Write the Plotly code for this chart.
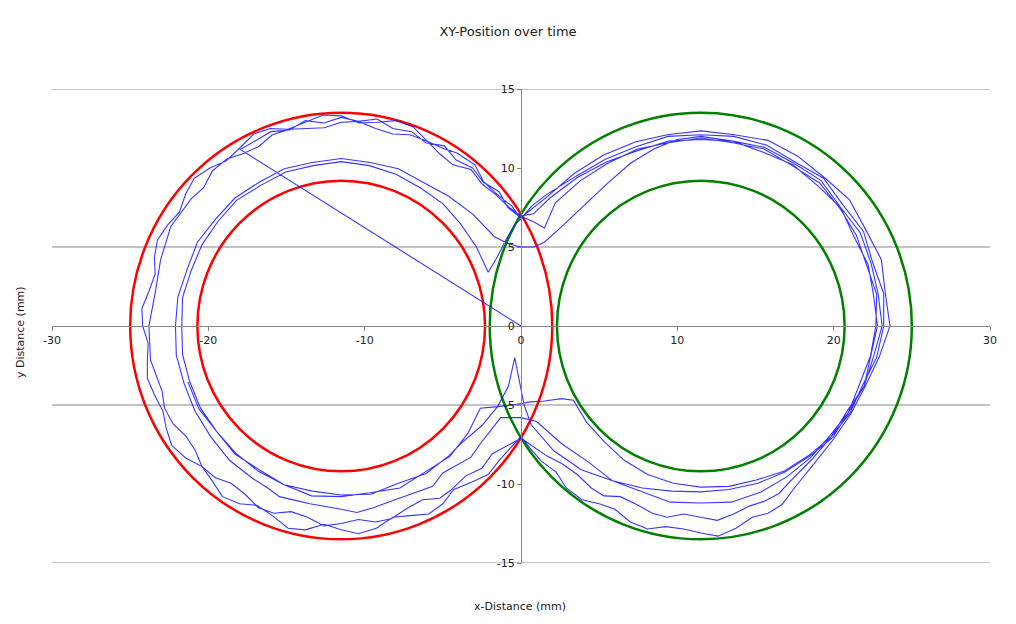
import plotly.graph_objects as go

# ---------------- data ----------------
x_ticks = [-30, -20, -10, 0, 10, 20, 30]
x_tick_text = ["-30", "-20", "-10", "0", "10", "20", "30"]
y_ticks = [-15, -10, -5, 0, 5, 10, 15]
y_tick_text = ["-15", "-10", "-5", "0", "5", "10", "15"]
grid_y = [-15, -5, 5, 15]

# target circles: centre x, centre y, radius
red_cx, red_cy = -11.5, 0.0
green_cx, green_cy = 11.5, 0.0
ring_radii = [13.5, 9.2]

# trajectory (x, y in mm)
start_x = [0.0, -17.95, -16.0, -14.8, -13.8, -12.6, -11.5, -10.4, -9.2, -8.2, -7.0, -6.1, -4.9, -4.15, -3.1, -2.4, -1.4, -0.85, 0.0]
start_y = [0.0, 11.17, 12.3, 12.4, 13.0, 12.85, 13.2, 12.95, 13.1, 12.5, 12.3, 11.6, 11.4, 10.5, 10.0, 9.1, 8.5, 7.5, 6.85]

lap1_right_x = [0.85, 1.7, 3.4, 5.25, 7.3, 9.35, 11.5, 13.65, 15.8, 17.7, 19.4, 21.0, 22.05, 23.05, 23.3, 23.6, 22.9, 22.0, 21.1, 20.0, 18.8,
                17.45, 16.7, 15.8, 14.8, 13.75, 12.6, 11.5, 10.4, 9.25, 8.1, 7.0, 6.0, 5.0, 3.9, 2.9, 2.25, 1.3, 0.55, 0.0]
lap1_right_y = [7.5, 8.2, 9.65, 10.8, 11.65, 12.1, 12.35, 12.1, 11.75, 10.75, 9.4, 8.0, 6.1, 4.2, 2.1, 0.0, -2.0, -3.85, -5.55, -7.15, -8.65,
                -10.3, -11.3, -11.85, -12.1, -12.8, -13.3, -13.1, -12.85, -12.7, -12.85, -12.4, -11.6, -11.25, -11.0, -10.25, -9.25, -8.55, -7.7, -7.0]
lap1_left_x = [-1.4, -2.1, -3.2, -4.3, -5.0, -5.9, -7.1, -8.2, -9.25, -10.4, -11.5, -12.6, -13.8, -14.9, -15.9, -16.9, -18.0, -19.1, -19.75,
               -20.4, -21.45, -22.35, -22.7, -22.9, -23.45, -23.9, -23.9, -23.85, -24.2, -24.25, -23.8, -23.4, -23.45, -23.25, -22.6,
               -21.85, -21.45, -20.9, -19.9, -18.85, -18.0, -17.1, -16.05, -14.9, -13.8, -12.65, -11.5, -10.35, -9.2, -8.0, -6.9,
               -6.0, -5.0, -4.1, -2.95, -2.4, -1.55, -0.6, 0.0]
lap1_left_y = [-8.5, -9.4, -9.9, -10.35, -11.25, -11.9, -12.0, -12.1, -12.8, -13.15, -12.9, -12.55, -12.9, -12.8, -12.0, -11.35, -11.25,
               -10.8, -9.8, -8.9, -8.35, -7.55, -6.45, -5.4, -4.35, -3.3, -2.2, -1.1, 0.0, 1.1, 2.2, 3.3, 4.35, 5.45, 6.4,
               7.2, 8.35, 9.35, 10.0, 10.45, 11.25, 12.15, 12.5, 12.45, 12.9, 13.35, 13.3, 12.85, 12.9, 13.0, 12.6,
               11.7, 11.25, 10.95, 10.2, 9.15, 8.35, 7.6, 6.8]

lap2_right_x = [0.7, 1.6, 3.55, 5.4, 7.35, 9.4, 11.5, 13.6, 15.7, 17.5, 19.35, 20.6, 21.9, 22.5, 23.2, 23.2, 22.75, 21.85, 21.05, 19.85, 18.6,
                17.2, 16.5, 15.55, 14.6, 13.6, 12.55, 11.5, 10.4, 9.35, 8.4, 7.4, 6.35, 5.3, 4.5, 3.6, 2.6, 1.7, 0.7, 0.0]
lap2_right_y = [7.6, 8.3, 9.5, 10.55, 11.35, 12.0, 12.1, 12.0, 11.45, 10.4, 9.35, 7.65, 6.0, 4.0, 2.05, 0.0, -2.0, -3.75, -5.5, -7.0, -8.45,
                -9.85, -10.6, -11.1, -11.4, -11.9, -12.3, -12.1, -11.9, -12.1, -11.85, -11.3, -10.8, -10.75, -10.25, -9.4, -8.7, -8.25, -7.55, -7.1]
lap2_left_x = [-1.85, -2.5, -3.55, -4.5, -5.2, -6.3, -7.3, -8.3, -9.3, -10.4, -11.5, -12.6, -13.65, -14.7, -15.8, -16.8, -17.65, -18.55,
               -19.55, -20.4, -20.85, -21.45, -22.25, -22.8, -22.95, -23.7, -23.8, -23.4, -23.05, -22.4, -21.1, -20.3, -19.75, -18.85,
               -17.8, -16.8, -15.9, -14.8, -13.7, -12.6, -11.5, -10.4, -9.3, -8.2, -7.1, -6.0, -5.2, -4.35, -3.2, -2.5, -1.6, -0.75, 0.1]
lap2_left_y = [-8.1, -9.0, -9.5, -10.4, -10.9, -11.0, -11.55, -12.2, -12.4, -12.25, -12.5, -12.65, -12.1, -11.75, -11.85, -11.5, -10.65, -9.95,
               -9.6, -8.9, -7.85, -6.95, -6.2, -5.2, -4.15, -2.15, 0.0, 2.1, 4.2, 6.3, 8.05, 8.75, 9.8, 10.55,
               10.9, 11.35, 12.1, 12.45, 12.5, 12.55, 12.9, 12.95, 12.5, 12.15, 12.1, 11.7, 10.9, 10.2, 9.9, 9.0, 8.3, 7.5, 6.9]

lap3_right_x = [0.8, 1.5, 2.2, 3.8, 5.55, 7.45, 9.45, 11.5, 13.55, 15.55, 17.35, 19.1, 20.4, 21.45, 22.1, 22.75, 22.7, 22.35, 21.65, 20.95, 19.75, 18.5, 17.0, 15.35, 13.45, 11.5, 9.55, 7.7, 5.85, 4.3, 2.6, 1.0, 0.0, -1.3]
lap3_right_y = [6.6, 6.2, 7.8, 9.2, 10.3, 11.2, 11.6, 11.9, 11.6, 11.2, 10.15, 9.05, 7.45, 5.75, 3.85, 2.0, 0.0, -1.9, -3.7, -5.45, -6.95, -8.35, -9.55, -10.5, -11.15, -11.2, -11.15, -10.45, -9.8, -8.6, -7.45, -6.05, -5.8, -5.8]
lap3_left_x = [-2.6, -3.2, -4.1, -5.0, -5.65, -6.6, -7.55, -8.5, -9.45, -10.5, -11.5, -12.5, -13.5, -14.5, -15.45, -16.2, -17.1, -18.65, -19.85, -20.85, -21.55, -22.05, -22.1, -21.95, -21.35, -20.7, -19.55, -18.3, -16.75, -15.15, -13.35, -11.5, -9.65, -7.85, -6.25, -4.6, -3.05, -1.7, -0.8, 0.0, 0.8, 1.5]
lap3_left_y = [-7.45, -8.3, -8.8, -9.3, -10.15, -10.47, -10.8, -11.15, -11.5, -11.8, -11.6, -11.42, -11.25, -11.02, -10.8, -10.25, -9.7, -8.5, -7.0, -5.4, -3.65, -1.85, 0.0, 1.85, 3.6, 5.3, 6.75, 8.1, 9.1, 9.95, 10.35, 10.6, 10.35, 9.95, 9.1, 8.2, 7.05, 5.65, 5.2, 5.0, 5.0, 5.3]

lap4_right_x = [2.5, 4.0, 5.5, 7.0, 8.5, 10.0, 11.5, 13.55, 15.6, 17.45, 19.2, 20.45, 21.7, 22.4, 22.85, 23.1, 22.55, 21.95, 20.85, 19.85, 18.4, 16.8, 15.05, 13.3, 11.5, 9.75, 8.1, 6.6, 5.35, 4.2, 3.35, 2.6, 1.5, 0.6, -0.5, -1.5, -2.6]
lap4_right_y = [6.2, 7.6, 9.0, 10.3, 11.2, 11.8, 12.0, 11.7, 11.3, 10.3, 9.2, 7.5, 5.9, 3.95, 2.0, 0.0, -1.95, -3.8, -5.4, -7.0, -8.2, -9.2, -9.75, -10.15, -10.2, -9.95, -9.4, -8.5, -7.35, -6.1, -4.7, -4.6, -4.75, -4.8, -5.0, -5.1, -5.2]
lap4_left_x = [-3.4, -4.55, -6.15, -7.75, -9.65, -11.5, -13.4, -15.15, -16.8, -18.25, -19.45, -20.5, -21.2, -21.65, -21.7, -21.65, -21.1, -20.4, -19.4, -18.2, -16.65, -15.05, -13.3, -11.5, -9.7, -8.0, -6.45, -5.0, -3.85, -2.85, -2.1, -1.5, -1.0, -0.4, 0.2, 0.8]
lap4_left_y = [-6.8, -8.25, -9.25, -10.25, -10.55, -10.8, -10.75, -10.05, -9.2, -8.05, -6.7, -5.2, -3.5, -1.8, 0.0, 1.8, 3.5, 5.15, 6.6, 7.95, 8.9, 9.75, 10.15, 10.4, 10.15, 9.6, 8.75, 7.75, 6.45, 5.0, 3.4, 4.4, 5.4, 6.4, 7.0, 7.1]

lap5_right_x = [1.85, 3.6, 5.5, 7.45, 9.45, 11.5, 13.55, 15.5, 17.4, 18.95, 20.45, 21.3, 22.2, 22.55, 22.8, 22.35, 21.95, 20.95, 19.95, 18.45, 16.85, 15.15, 13.3, 11.5, 9.65, 7.75, 5.85, 3.85, 2.1, 0.65, 0.2, -0.4, -0.8, -1.5, -2.5, -3.8]
lap5_right_y = [8.1, 9.4, 10.4, 11.1, 11.7, 11.8, 11.7, 11.0, 10.2, 8.9, 7.5, 5.65, 3.9, 1.95, 0.0, -1.9, -3.8, -5.45, -7.05, -8.25, -9.25, -9.95, -10.35, -10.5, -10.45, -10.25, -9.8, -9.1, -7.9, -6.25, -5.0, -2.0, -3.8, -5.1, -6.3, -7.4]
lap5_left_x = [-4.6, -6.1, -7.85, -9.6, -11.5, -13.35, -15.15, -16.75, -18.3, -19.45, -20.6, -21.3]
lap5_left_y = [-8.2, -9.35, -9.95, -10.65, -10.7, -10.45, -10.05, -9.1, -8.1, -6.7, -5.25, -3.55]

segments_x = [start_x, lap1_right_x, lap1_left_x, lap2_right_x, lap2_left_x, lap3_right_x, lap3_left_x,
              lap4_right_x, lap4_left_x, lap5_right_x, lap5_left_x]
segments_y = [start_y, lap1_right_y, lap1_left_y, lap2_right_y, lap2_left_y, lap3_right_y, lap3_left_y,
              lap4_right_y, lap4_left_y, lap5_right_y, lap5_left_y]
traj_x = [v for seg in segments_x for v in seg]
traj_y = [v for seg in segments_y for v in seg]

# ---------------- figure ----------------
FONT = "DejaVu Sans, Verdana, sans-serif"
AXIS_GREY = "#868686"
TEXT = "#222222"

fig = go.Figure()
fig.add_trace(go.Scatter(x=traj_x, y=traj_y, mode="lines",
                         line=dict(color="rgba(20,20,255,0.85)", width=1.1),
                         hoverinfo="skip", showlegend=False))

shapes = []
for gy in grid_y:
    shapes.append(dict(type="line", xref="x", yref="y", x0=x_ticks[0], x1=x_ticks[-1], y0=gy, y1=gy,
                       line=dict(color=AXIS_GREY, width=1), layer="below"))
for (cx, cy, col) in [(red_cx, red_cy, "#ff0000"), (green_cx, green_cy, "#008000")]:
    for r in ring_radii:
        shapes.append(dict(type="circle", xref="x", yref="y", x0=cx - r, x1=cx + r, y0=cy - r, y1=cy + r,
                           line=dict(color=col, width=2.5), layer="below"))

axis_common = dict(showgrid=False, zeroline=False, showline=True, linecolor=AXIS_GREY, linewidth=1,
                   ticks="outside", ticklen=4, tickcolor=AXIS_GREY,
                   tickfont=dict(family=FONT, size=11, color=TEXT), anchor="free", position=0.5)

fig.update_layout(
    width=1016, height=624,
    margin=dict(l=52, r=26, t=89, b=61),
    paper_bgcolor="white", plot_bgcolor="white",
    xaxis=dict(range=[-30, 30], tickvals=x_ticks, ticktext=x_tick_text, **axis_common),
    yaxis=dict(range=[-15, 15], tickvals=y_ticks, ticktext=y_tick_text, **axis_common),
    shapes=shapes,
    title=dict(text="XY-Position over time", x=0.5, xanchor="center", y=1 - 31 / 624, yanchor="middle",
               font=dict(family=FONT, size=13, color=TEXT)),
    annotations=[
        dict(text="x-Distance (mm)", xref="paper", yref="paper", x=(520 - 52) / 938, y=(563 - 606) / 474,
             xanchor="center", yanchor="middle",
             showarrow=False, font=dict(family=FONT, size=11, color=TEXT)),
        dict(text="y Distance (mm)", xref="paper", yref="paper", x=(20 - 52) / 938, y=(563 - 332) / 474,
             xanchor="center", yanchor="middle",
             textangle=-90, showarrow=False, font=dict(family=FONT, size=11, color=TEXT)),
    ],
)

fig.write_html("out.html")
